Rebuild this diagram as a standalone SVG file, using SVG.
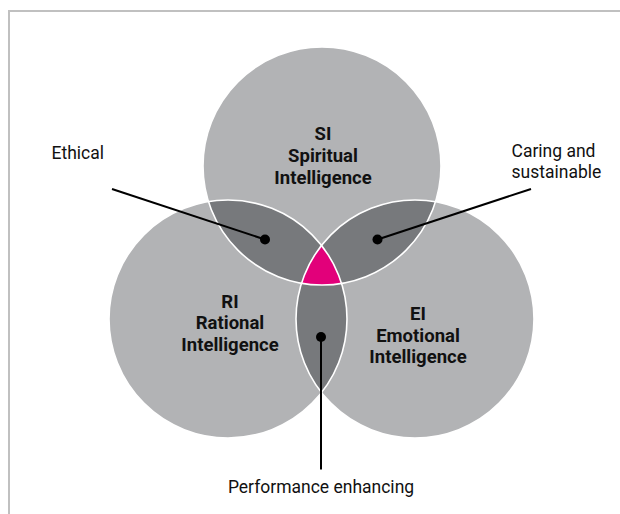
<svg xmlns="http://www.w3.org/2000/svg" width="620" height="514" viewBox="0 0 620 514">
<style>
.lbl{font-family:Roboto,"Liberation Sans",sans-serif;font-size:17.5px;fill:#111}
.ttl{font-family:Roboto,"Liberation Sans",sans-serif;font-size:18.5px;font-weight:bold;fill:#111;text-anchor:middle}
.base{fill:#b2b3b5}
.dark{fill:#77797c}
.mag{fill:#e2007a}
.rim{fill:none;stroke:#ffffff;stroke-width:1.6}
.lead{stroke:#000;stroke-width:2;fill:none}
</style>
<defs>
<clipPath id="cS"><circle cx="322" cy="166" r="119"/></clipPath>
<clipPath id="cR"><circle cx="228" cy="319" r="119"/></clipPath>
<clipPath id="cE"><circle cx="415" cy="319" r="119"/></clipPath>
</defs>
<rect x="9" y="11" width="640" height="540" fill="none" stroke="#c0c0c0" stroke-width="2"/>
<g id="SI"><circle class="base" cx="322" cy="166" r="119"/></g>
<g id="RI"><circle class="base" cx="228" cy="319" r="119"/></g>
<g id="EI"><circle class="base" cx="415" cy="319" r="119"/></g>
<g id="ethical-region"><g clip-path="url(#cR)"><circle class="dark" cx="322" cy="166" r="119"/></g></g>
<g id="caring-region"><g clip-path="url(#cE)"><circle class="dark" cx="322" cy="166" r="119"/></g></g>
<g id="performance-region"><g clip-path="url(#cE)"><circle class="dark" cx="228" cy="319" r="119"/></g></g>
<g id="center"><g clip-path="url(#cS)"><g clip-path="url(#cE)"><circle class="mag" cx="228" cy="319" r="119"/></g></g></g>
<g id="rims">
<circle class="rim" cx="322" cy="166" r="119"/>
<circle class="rim" cx="228" cy="319" r="119"/>
<circle class="rim" cx="415" cy="319" r="119"/>
</g>
<g id="SI-label"><text class="ttl" x="323" y="140">SI</text><text class="ttl" x="323" y="162">Spiritual</text><text class="ttl" x="323" y="183.5">Intelligence</text></g>
<g id="RI-label"><text class="ttl" x="230" y="307.5">RI</text><text class="ttl" x="230" y="329">Rational</text><text class="ttl" x="230" y="350.5">Intelligence</text></g>
<g id="EI-label"><text class="ttl" x="418" y="320">EI</text><text class="ttl" x="418" y="341.5">Emotional</text><text class="ttl" x="418" y="362.5">Intelligence</text></g>
<g id="connectors">
<line class="lead" x1="112" y1="189" x2="265" y2="239.5"/>
<circle cx="265" cy="239.5" r="5" fill="#000"/>
<line class="lead" x1="531" y1="189" x2="377.5" y2="239.5"/>
<circle cx="377.5" cy="239.5" r="5" fill="#000"/>
<line class="lead" x1="321" y1="337" x2="321" y2="469.5"/>
<circle cx="321" cy="337" r="5" fill="#000"/>
</g>
<g id="ethical"><text class="lbl" x="51.5" y="158.7">Ethical</text></g>
<g id="caring"><text class="lbl" x="511.5" y="156.7">Caring and</text><text class="lbl" x="511.5" y="177.7">sustainable</text></g>
<g id="performance"><text class="lbl" x="321" y="492.7" text-anchor="middle">Performance enhancing</text></g>
</svg>
